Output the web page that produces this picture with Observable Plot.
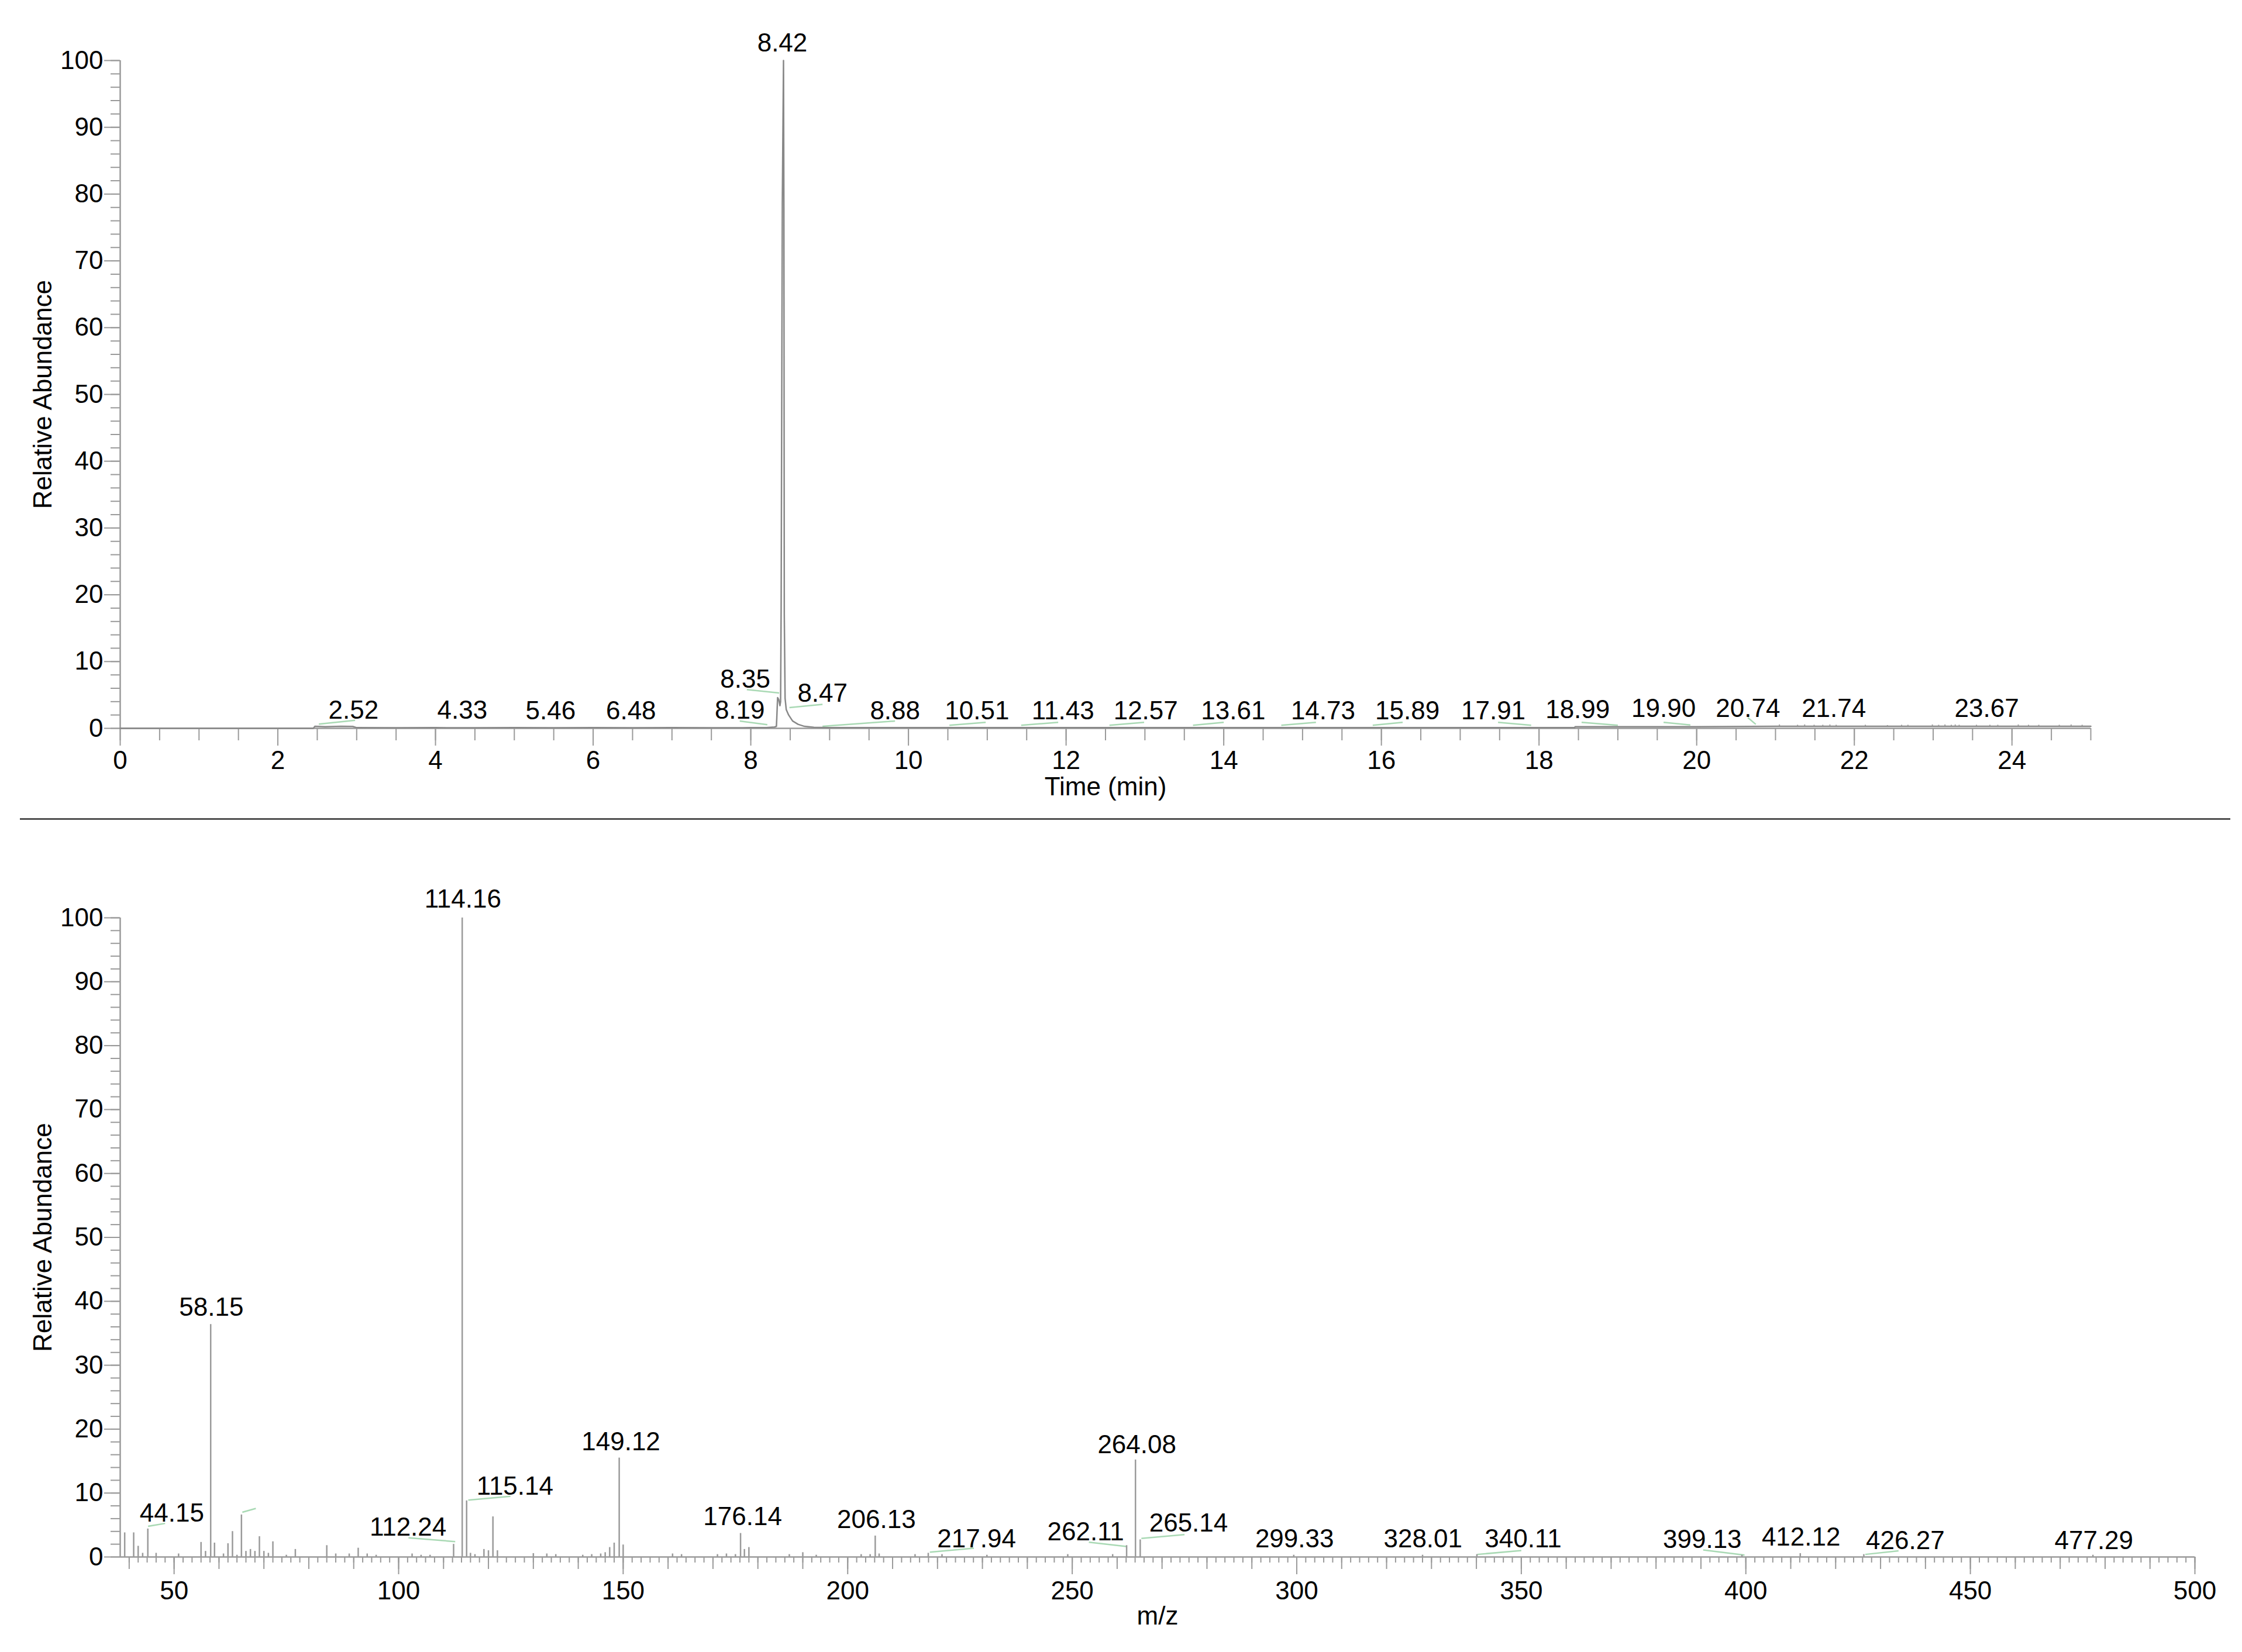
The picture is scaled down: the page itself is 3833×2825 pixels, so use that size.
<!DOCTYPE html>
<html><head><meta charset="utf-8">
<script src="https://cdn.jsdelivr.net/npm/d3@7"></script>
<script src="https://cdn.jsdelivr.net/npm/@observablehq/plot@0.6"></script>
<style>
body{margin:0;background:#fff;font-family:"Liberation Sans",Arial,Helvetica,sans-serif;}
#wrap{position:relative;width:3833px;height:2825px;background:#fff;}
#top{position:absolute;left:0;top:0;}
#sep{position:absolute;left:34px;top:1399px;width:3779px;height:3px;background:#505050;}
#bot{position:absolute;left:0;top:1408px;}
svg{overflow:visible;}
</style></head><body>
<div id="wrap"><div id="top"></div><div id="sep"></div><div id="bot"></div></div>
<script>
// ---------- Chromatogram (top) ----------
const chromTime  = [0, 2.45, 2.47, 2.6, 2.8, 2.95, 3.0, 3.5, 4.0, 4.5, 5.0, 5.5, 6.0, 6.5, 7.0, 7.5, 8.0, 8.2, 8.3, 8.325, 8.33, 8.34, 8.355, 8.37, 8.378, 8.385, 8.40, 8.415, 8.42, 8.425, 8.435, 8.45, 8.48, 8.53, 8.6, 8.68, 8.8, 9.0, 9.5, 10, 11, 12, 13, 14, 15, 16, 17, 18, 18.45, 18.46, 19, 20, 21, 22, 23, 24, 25];
const chromAbund = [0, 0, 0.3, 0.25, 0.3, 0.28, 0.1, 0.08, 0.1, 0.08, 0.1, 0.08, 0.1, 0.08, 0.1, 0.08, 0.1, 0.1, 0.2, 0.3, 1.6, 4.6, 4.3, 3.4, 4.0, 17.9, 78.5, 100, 78, 17, 4.5, 2.8, 2.0, 1.1, 0.6, 0.3, 0.15, 0.1, 0.1, 0.1, 0.1, 0.1, 0.1, 0.1, 0.1, 0.1, 0.1, 0.1, 0.1, 0.25, 0.25, 0.25, 0.3, 0.3, 0.3, 0.3, 0.3];
// small noise spikes on the late baseline
const spikeTime   = [21.05, 21.28, 21.37, 21.49, 21.6, 21.69, 21.77, 22.14, 22.42, 22.6, 22.68, 22.99, 23.07, 23.15, 23.23, 23.28, 23.33, 23.55, 23.72, 23.82, 24.08, 24.21, 24.34, 24.6, 24.75, 24.89];
const spikeHeight = [0.55, 0.5, 0.55, 0.5, 0.5, 0.55, 0.5, 0.5, 0.45, 0.5, 0.5, 0.55, 0.5, 0.55, 0.5, 0.55, 0.5, 0.5, 0.5, 0.5, 0.55, 0.5, 0.5, 0.5, 0.55, 0.5];
const spikeBase = 0.28;
// peak annotations: text, label time, label height (baseline)
const chromLabelText = ["8.42", "8.35", "8.47", "8.19", "2.52", "4.33", "5.46", "6.48", "8.88", "10.51", "11.43", "12.57", "13.61", "14.73", "15.89", "17.91", "18.99", "19.90", "20.74", "21.74", "23.67"];
const chromLabelX    = [8.40, 7.93, 8.91, 7.86, 2.96, 4.34, 5.46, 6.48, 9.83, 10.87, 11.96, 13.01, 14.12, 15.26, 16.33, 17.42, 18.49, 19.58, 20.65, 21.74, 23.68];
const chromLabelY    = [101.4, 6.1, 4.0, 1.45, 1.45, 1.45, 1.35, 1.35, 1.4, 1.4, 1.4, 1.4, 1.4, 1.4, 1.4, 1.4, 1.5, 1.7, 1.7, 1.7, 1.75];
// green peak-marker segments [x1, y1, x2, y2]
const chromLinks = [[2.52,0.63,2.98,1.2],[7.86,1.1,8.21,0.55],[7.95,5.8,8.36,5.3],[8.49,3.1,8.91,3.6],[8.91,0.3,9.83,1.1],[10.52,0.45,10.98,0.9],[11.43,0.45,11.9,0.9],[12.55,0.45,12.99,0.9],[13.61,0.45,14.0,0.9],[14.73,0.45,15.17,0.9],[15.89,0.45,16.27,0.9],[17.48,0.9,17.9,0.45],[18.54,0.9,19.0,0.45],[19.58,0.9,19.92,0.5],[20.65,1.6,20.75,0.6]];

// ---------- Mass spectrum (bottom) ----------
const specMz  = [39, 41, 42, 43, 44.15, 46, 51, 56, 57, 58.15, 59, 61, 62, 63, 64, 65, 66, 67, 68, 69, 70, 71, 72, 75, 77, 84, 86, 89, 91, 93, 95, 103, 105, 107, 112.24, 114.16, 115.14, 116, 117, 119, 120, 121, 122, 130, 133, 135, 141, 143, 145, 146, 147, 148, 149.12, 150, 161, 163, 171, 173, 175, 176.14, 177, 178, 187, 190, 193, 203, 205, 206.13, 207, 215, 217.94, 221, 231, 249, 259, 262.11, 264.08, 265.14, 299.33, 328.01, 340.11, 399.13, 412.12, 426.27, 477.29];
const specInt = [3.8, 3.8, 1.7, 0.6, 4.4, 0.6, 0.5, 2.3, 0.9, 36.4, 2.2, 0.5, 2.1, 4.0, 0.3, 6.6, 0.9, 1.2, 0.9, 3.2, 0.9, 0.6, 2.4, 0.3, 1.2, 1.8, 0.5, 0.5, 1.4, 0.5, 0.3, 0.5, 0.3, 0.3, 2.0, 100, 8.8, 0.6, 0.4, 1.2, 1.0, 6.3, 1.0, 0.55, 0.5, 0.4, 0.3, 0.4, 0.5, 0.7, 1.5, 2.2, 15.5, 1.9, 0.5, 0.4, 0.4, 0.5, 0.4, 3.7, 1.2, 1.5, 0.4, 0.7, 0.3, 0.4, 0.4, 3.3, 0.5, 0.4, 0.6, 0.4, 0.3, 0.4, 0.4, 1.8, 15.2, 2.7, 0.3, 0.3, 0.4, 0.3, 0.55, 0.4, 0.3];
const specLabelText = ["114.16", "58.15", "44.15", "112.24", "115.14", "149.12", "176.14", "206.13", "217.94", "262.11", "264.08", "265.14", "299.33", "328.01", "340.11", "399.13", "412.12", "426.27", "477.29"];
const specLabelX    = [114.3, 58.3, 49.5, 102.1, 125.9, 149.5, 176.6, 206.4, 228.7, 253.0, 264.4, 275.9, 299.5, 328.1, 350.4, 390.3, 412.3, 435.5, 477.5];
const specLabelY    = [101.6, 37.7, 5.5, 3.3, 9.75, 16.7, 5.0, 4.5, 1.5, 2.6, 16.2, 4.0, 1.5, 1.5, 1.5, 1.45, 1.8, 1.2, 1.2];
const specLinks = [[44.2,4.8,48.0,5.25],[65.2,7.0,68.2,7.6],[102.2,3.0,112.6,2.4],[115.5,8.9,124.9,9.5],[218.3,0.76,228.1,1.37],[253.7,2.3,262.0,1.65],[265.4,2.9,275.0,3.5],[340.2,0.4,350.0,1.0],[390.5,1.1,399.7,0.3],[426.6,0.4,434.0,0.95]];

// tick sets
const yMajor = [0,10,20,30,40,50,60,70,80,90,100];
const yMinor = d3.range(0, 101, 2);
const tMajor = [0,2,4,6,8,10,12,14,16,18,20,22,24];
const tMinor = d3.range(0, 25.001, 0.5);
const mzMajor = [50,100,150,200,250,300,350,400,450,500];
const mzMid = d3.range(40, 501, 10);
const mzMinor = d3.range(40, 501, 2);

const FONT = '"Liberation Sans", Arial, Helvetica, sans-serif';
const AX = "#9a9a9a";
const GREEN = "#a9d9b4";
const fmtInt = d => String(d);

const chrom = chromTime.map((t, i) => ({t, a: chromAbund[i]}));
const spikes = spikeTime.map((t, i) => ({t, h: spikeHeight[i]}));
const chromLabels = chromLabelText.map((s, i) => ({s, x: chromLabelX[i], y: chromLabelY[i]}));
const spec = specMz.map((m, i) => ({m, v: specInt[i]}));
const specLabels = specLabelText.map((s, i) => ({s, x: specLabelX[i], y: specLabelY[i]}));
const toLink = L => L.map(([x1,y1,x2,y2]) => ({x1,y1,x2,y2}));

function yAxes() {
  return [
    Plot.axisY(yMinor, {anchor: "left", tickSize: 16, tickFormat: () => "", stroke: AX, strokeWidth: 2, label: null}),
    Plot.axisY(yMajor, {anchor: "left", tickSize: 27, tickPadding: 2, tickFormat: fmtInt, stroke: AX, fill: "black", strokeWidth: 2, fontSize: 44, label: null})
  ];
}

const topPlot = Plot.plot({
  width: 3833, height: 1399,
  marginLeft: 205, marginRight: 259, marginTop: 103, marginBottom: 154,
  x: {domain: [0, 25]},
  y: {domain: [0, 100]},
  style: {fontFamily: FONT, fontSize: "44px", background: "white", color: "black"},
  marks: [
    ...yAxes(),
    Plot.axisX(tMinor, {anchor: "bottom", tickSize: 21, tickFormat: () => "", stroke: AX, strokeWidth: 2, label: null}),
    Plot.axisX(tMajor, {anchor: "bottom", tickSize: 30, tickPadding: 8, tickFormat: fmtInt, stroke: AX, fill: "black", strokeWidth: 2, fontSize: 44, label: null}),
    Plot.ruleY([0], {stroke: AX, strokeWidth: 2.5}),
    Plot.ruleX([0], {y1: 0, y2: 100, stroke: AX, strokeWidth: 2.5}),
    Plot.link(toLink(chromLinks), {x1: "x1", y1: "y1", x2: "x2", y2: "y2", stroke: GREEN, strokeWidth: 2.5}),
    Plot.ruleX(spikes, {x: "t", y1: spikeBase, y2: "h", stroke: "#aaa", strokeWidth: 2}),
    Plot.line(chrom, {x: "t", y: "a", stroke: "#888", strokeWidth: 2.5}),
    Plot.text(chromLabels, {x: "x", y: "y", text: "s", lineAnchor: "bottom", fontSize: 44, fill: "black"}),
    Plot.text(["Relative Abundance"], {frameAnchor: "left", textAnchor: "middle", dx: -132, rotate: -90, fontSize: 44, fill: "black"}),
    Plot.text(["Time (min)"], {frameAnchor: "bottom", textAnchor: "middle", dy: 114, fontSize: 44, fill: "black"})
  ]
});
document.getElementById("top").appendChild(topPlot);

const botPlot = Plot.plot({
  width: 3833, height: 1417,
  marginLeft: 205, marginRight: 81, marginTop: 161, marginBottom: 163,
  x: {domain: [38, 500]},
  y: {domain: [0, 100]},
  style: {fontFamily: FONT, fontSize: "44px", background: "white", color: "black"},
  marks: [
    ...yAxes(),
    Plot.axisX(mzMinor, {anchor: "bottom", tickSize: 10, tickFormat: () => "", stroke: AX, strokeWidth: 2, label: null}),
    Plot.axisX(mzMid, {anchor: "bottom", tickSize: 21, tickFormat: () => "", stroke: AX, strokeWidth: 2, label: null}),
    Plot.axisX(mzMajor, {anchor: "bottom", tickSize: 30, tickPadding: 11, tickFormat: fmtInt, stroke: AX, fill: "black", strokeWidth: 2, fontSize: 44, label: null}),
    Plot.ruleY([0], {stroke: AX, strokeWidth: 2.5}),
    Plot.ruleX([38], {y1: 0, y2: 100, stroke: AX, strokeWidth: 2.5}),
    Plot.link(toLink(specLinks), {x1: "x1", y1: "y1", x2: "x2", y2: "y2", stroke: GREEN, strokeWidth: 2.5}),
    Plot.ruleX(spec, {x: "m", y1: 0, y2: "v", stroke: "#9a9a9a", strokeWidth: 2.5}),
    Plot.text(specLabels, {x: "x", y: "y", text: "s", lineAnchor: "bottom", fontSize: 44, fill: "black"}),
    Plot.text(["Relative Abundance"], {frameAnchor: "left", textAnchor: "middle", dx: -132, rotate: -90, fontSize: 44, fill: "black"}),
    Plot.text(["m/z"], {frameAnchor: "bottom", textAnchor: "middle", dy: 115, fontSize: 44, fill: "black"})
  ]
});
document.getElementById("bot").appendChild(botPlot);
</script>
</body></html>
